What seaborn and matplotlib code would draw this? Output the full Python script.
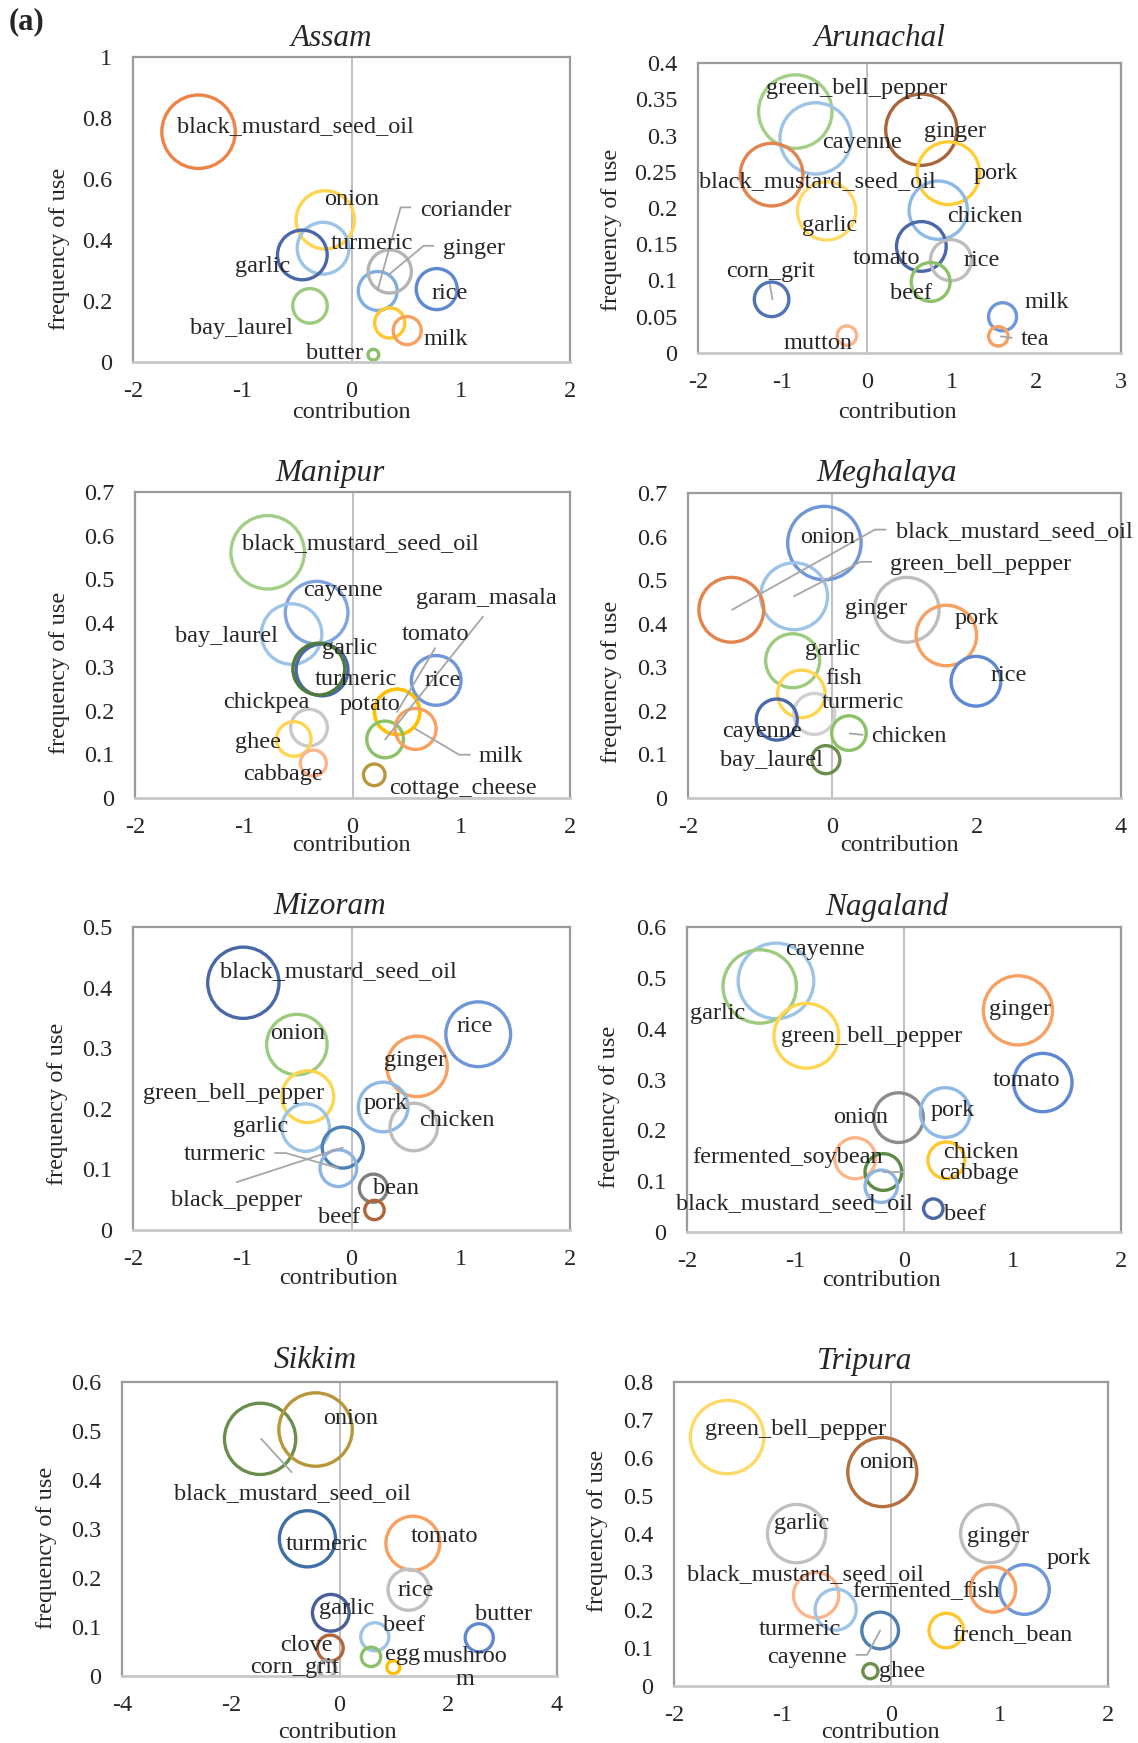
import matplotlib
matplotlib.use("Agg")
import matplotlib.pyplot as plt
import seaborn as sns
import numpy as np
from matplotlib.ticker import FuncFormatter

# ---- data: contribution (x), frequency of use (y), bubble size ----
assam_items = ["black_mustard_seed_oil", "onion", "turmeric", "garlic", "coriander", "ginger",
               "rice", "bay_laurel", "", "milk", "butter"]
assam_contrib = [-1.40, -0.24, -0.26, -0.45, 0.24, 0.35, 0.78, -0.38, 0.35, 0.51, 0.20]
assam_freq = [0.755, 0.466, 0.373, 0.351, 0.233, 0.297, 0.239, 0.184, 0.128, 0.103, 0.024]
assam_size = [34, 27, 24, 23, 18, 20, 19, 16, 14, 13, 5]

arunachal_items = ["green_bell_pepper", "cayenne", "ginger", "black_mustard_seed_oil", "pork", "garlic",
                   "chicken", "tomato", "rice", "beef", "corn_grit", "milk", "tea", "mutton"]
arunachal_contrib = [-0.85, -0.61, 0.64, -1.13, 0.96, -0.48, 0.84, 0.64, 0.99, 0.75, -1.13, 1.60, 1.55, -0.24]
arunachal_freq = [0.333, 0.296, 0.308, 0.246, 0.248, 0.196, 0.197, 0.147, 0.128, 0.098, 0.074, 0.050, 0.023, 0.024]
arunachal_size = [34, 33, 33, 29, 29, 27, 27, 23, 19, 18, 16, 13, 9, 9]

manipur_items = ["black_mustard_seed_oil", "cayenne", "bay_laurel", "garlic", "turmeric", "rice", "potato",
                 "tomato", "garam_masala", "milk", "chickpea", "ghee", "cabbage", "cottage_cheese"]
manipur_contrib = [-0.78, -0.33, -0.56, -0.28, -0.31, 0.77, 0.41, 0.41, 0.30, 0.58, -0.40, -0.54, -0.36, 0.20]
manipur_freq = [0.562, 0.424, 0.375, 0.293, 0.295, 0.269, 0.197, 0.197, 0.134, 0.158, 0.161, 0.135, 0.080, 0.053]
manipur_size = [34, 29, 28, 24, 24, 23, 21, 21, 17, 19, 17, 16, 12, 10]

meghalaya_items = ["onion", "green_bell_pepper", "black_mustard_seed_oil", "ginger", "pork", "garlic",
                   "rice", "fish", "turmeric", "cayenne", "chicken", "bay_laurel"]
meghalaya_contrib = [-0.11, -0.53, -1.40, 1.03, 1.58, -0.55, 1.99, -0.43, -0.25, -0.77, 0.23, -0.09]
meghalaya_freq = [0.585, 0.463, 0.432, 0.432, 0.373, 0.315, 0.268, 0.239, 0.193, 0.180, 0.149, 0.088]
meghalaya_size = [34, 31, 30, 30, 28, 25, 23, 22, 19, 19, 16, 13]

mizoram_items = ["black_mustard_seed_oil", "rice", "onion", "ginger", "green_bell_pepper", "pork",
                 "chicken", "garlic", "black_pepper", "turmeric", "bean", "beef"]
mizoram_contrib = [-0.99, 1.16, -0.50, 0.60, -0.40, 0.29, 0.57, -0.42, -0.08, -0.12, 0.20, 0.21]
mizoram_freq = [0.408, 0.323, 0.306, 0.270, 0.220, 0.203, 0.170, 0.169, 0.136, 0.102, 0.069, 0.033]
mizoram_size = [33, 30, 28, 28, 24, 23, 22, 22, 19, 17, 13, 9]

nagaland_items = ["cayenne", "garlic", "green_bell_pepper", "ginger", "tomato", "onion", "pork",
                  "chicken", "fermented_soybean", "cabbage", "black_mustard_seed_oil", "beef"]
nagaland_contrib = [-1.18, -1.33, -0.90, 1.05, 1.28, -0.05, 0.38, 0.39, -0.45, -0.19, -0.21, 0.27]
nagaland_freq = [0.494, 0.483, 0.386, 0.436, 0.294, 0.225, 0.235, 0.141, 0.145, 0.118, 0.090, 0.046]
nagaland_size = [35, 34, 30, 32, 27, 23, 23, 17, 19, 17, 15, 9]

sikkim_items = ["black_mustard_seed_oil", "onion", "turmeric", "tomato", "rice", "garlic", "beef",
                "butter", "clove", "egg", "mushroom", "corn_grit"]
sikkim_contrib = [-1.46, -0.44, -0.59, 1.35, 1.27, -0.16, 0.65, 2.57, -0.17, 0.58, 0.99, -0.23]
sikkim_freq = [0.484, 0.503, 0.280, 0.271, 0.176, 0.129, 0.080, 0.078, 0.057, 0.039, 0.018, 0.015]
sikkim_size = [33, 34, 26, 25, 19, 17, 13, 13, 12, 9, 6, 8]

tripura_items = ["green_bell_pepper", "onion", "garlic", "ginger", "pork", "fermented_fish",
                 "black_mustard_seed_oil", "turmeric", "cayenne", "french_bean", "ghee"]
tripura_contrib = [-1.51, -0.08, -0.87, 0.91, 1.23, 0.94, -0.69, -0.51, -0.10, 0.51, -0.19]
tripura_freq = [0.655, 0.563, 0.401, 0.401, 0.254, 0.254, 0.239, 0.201, 0.146, 0.146, 0.039]
tripura_size = [34, 32, 27, 27, 23, 21, 21, 19, 17, 16, 7]

# ---- styles: outline colours ----
assam_colors = ["#EC8447", "#FFD54F", "#9DC3E6", "#4A67A8", "#7EAEE0", "#B4B4B4", "#5E88D2",
                "#9CCB7F", "#FFC72C", "#F7A061", "#8CC168"]
arunachal_colors = ["#A3CE88", "#9DC3E6", "#A9653A", "#E3834D", "#FFCD33", "#FFD966", "#8DB9E4",
                    "#4A67A8", "#BDBDBD", "#8CC168", "#4F72B8", "#6F96D8", "#F7A061", "#FBB58A"]
manipur_colors = ["#A3CE88", "#7FA4E0", "#9DC3E6", "#4A67A8", "#4E7A3A", "#6F96D8", "#FFC000",
                  "#FFC000", "#8CC168", "#F7A061", "#C8C8C8", "#FFD54F", "#FBB58A", "#B8963A"]
meghalaya_colors = ["#6F96D8", "#9DC3E6", "#E3834D", "#BDBDBD", "#F7A061", "#9CCB7F", "#5E88D2",
                    "#FFD54F", "#D0D0D0", "#4A67A8", "#8CC168", "#6B8E4E"]
mizoram_colors = ["#4A67A8", "#6F96D8", "#9CCB7F", "#F7A061", "#FFD54F", "#8DB9E4", "#BDBDBD",
                  "#9DC3E6", "#4F7FB8", "#8EB4E3", "#7F7F7F", "#B0653A"]
nagaland_colors = ["#9DC3E6", "#9CCB7F", "#FFD54F", "#F7A061", "#5E88D2", "#8C8C8C", "#8DB9E4",
                   "#FFC72C", "#FBB58A", "#5E8B45", "#8EB4E3", "#4A67A8"]
sikkim_colors = ["#6B8E4E", "#B8963A", "#3F6FA8", "#F7A061", "#C0C0C0", "#4A5F99", "#9DC3E6",
                 "#5E88D2", "#B0653A", "#8CC168", "#FFC000", "#A5A5A5"]
tripura_colors = ["#FFD966", "#B5703F", "#C0C0C0", "#BDBDBD", "#6F96D8", "#F7A061", "#FBB58A",
                  "#9DC3E6", "#4F7FB0", "#FFC72C", "#6B8E4E"]

# ---- layout: label anchors and leader lines (data coords) ----
assam_labels = [(-0.51, 0.771), (0.0, 0.534), (0.19, 0.389), (-0.81, 0.313), (1.05, 0.498), (1.12, 0.373),
                (0.90, 0.226), (-1.01, 0.111), None, (0.86, 0.075), (-0.16, 0.029)]
assam_leaders = [[(0.54, 0.507), (0.45, 0.507), (0.24, 0.237)], [(0.75, 0.381), (0.66, 0.381), (0.35, 0.289)]]

arunachal_labels = [(-0.13, 0.365), (-0.06, 0.290), (1.04, 0.306), (-0.59, 0.236), (1.52, 0.248),
                    (-0.45, 0.176), (1.39, 0.188), (0.23, 0.130), (1.35, 0.127), (0.52, 0.082),
                    (-1.14, 0.113), (2.12, 0.070), (1.98, 0.018), (-0.58, 0.013)]
arunachal_leaders = [[(-1.15, 0.094), (-1.12, 0.074)], [(1.58, 0.023), (1.71, 0.021)]]

manipur_labels = [(0.07, 0.582), (-0.09, 0.474), (-1.16, 0.369), (-0.03, 0.342), (0.03, 0.272), (0.83, 0.269),
                  (0.16, 0.213), (0.76, 0.375), (1.23, 0.457), (1.36, 0.095), (-0.79, 0.218), (-0.87, 0.126),
                  (-0.64, 0.053), (1.02, 0.021)]
manipur_leaders = [[(0.76, 0.343), (0.41, 0.197)], [(1.20, 0.415), (0.30, 0.134)],
                   [(1.08, 0.099), (0.98, 0.099), (0.58, 0.158)]]

meghalaya_labels = [(-0.06, 0.599), (2.05, 0.536), (2.52, 0.612), (0.61, 0.436), (2.0, 0.411), (0.0, 0.340),
                    (2.45, 0.281), (0.16, 0.275), (0.42, 0.220), (-0.98, 0.153), (1.06, 0.142), (-0.85, 0.086)]
meghalaya_leaders = [[(0.74, 0.616), (0.59, 0.616), (-1.39, 0.432)],
                     [(0.54, 0.542), (0.39, 0.542), (-0.53, 0.463)], [(0.24, 0.148), (0.42, 0.145)]]

mizoram_labels = [(-0.12, 0.426), (1.13, 0.335), (-0.49, 0.324), (0.58, 0.279), (-1.08, 0.226), (0.31, 0.209),
                  (0.96, 0.181), (-0.83, 0.170), (-1.05, 0.048), (-1.16, 0.124), (0.41, 0.069), (-0.11, 0.020)]
mizoram_leaders = [[(-0.70, 0.127), (-0.60, 0.127), (-0.12, 0.102)], [(-1.05, 0.079), (-0.08, 0.136)]]

nagaland_labels = [(-0.73, 0.555), (-1.72, 0.429), (-0.30, 0.384), (1.07, 0.437), (1.13, 0.298), (-0.40, 0.225),
                   (0.45, 0.239), (0.71, 0.156), (-1.07, 0.147), (0.69, 0.115), (-1.01, 0.056), (0.56, 0.035)]
nagaland_leaders = [[(-0.19, 0.118), (0.0, 0.118)]]

sikkim_labels = [(-0.86, 0.372), (0.20, 0.525), (-0.23, 0.269), (1.93, 0.285), (1.40, 0.175), (0.14, 0.137),
                 (1.19, 0.103), (3.02, 0.126), (-0.61, 0.063), (1.16, 0.044), (2.31, 0.016), (-0.83, 0.018)]
sikkim_leaders = [[(-1.44, 0.484), (-0.88, 0.416)]]

tripura_labels = [(-0.88, 0.675), (-0.04, 0.589), (-0.82, 0.427), (0.99, 0.394), (1.64, 0.335), (0.32, 0.250),
                  (-0.79, 0.294), (-0.84, 0.148), (-0.77, 0.076), (1.12, 0.136), (0.10, 0.039)]
tripura_leaders = [[(-0.32, 0.082), (-0.22, 0.082), (-0.10, 0.146)]]

W, H = 1138, 1743
LABEL_FS = 17.5
TICK_FS = 17.5
BUBBLE_SCALE = 1.08  # px radius per size unit

sns.set_style("white")
plt.rcParams["font.family"] = ["Liberation Serif", "DejaVu Serif"]

fig = plt.figure(figsize=(W / 100, H / 100), dpi=100)


def fig_xy(px, py):
    return px / W, 1 - py / H


def draw_panel(title, items, contrib, freq, size, colors, labels, leaders,
               box, xlim, xstep, ylim, ystep, title_pos, xlabel_pos, ylabel_pos, wrap=None):
    left, top, right, bottom = box
    ax = fig.add_axes([left / W, 1 - bottom / H, (right - left) / W, (bottom - top) / H])
    ax.axvline(0, color="#BFBFBF", lw=1.4, zorder=1)

    sns.scatterplot(x=contrib, y=freq, ax=ax, legend=False, zorder=2)
    coll = ax.collections[-1]
    coll.set_facecolor("none")
    coll.set_edgecolors(colors)
    coll.set_linewidths(2.4)
    diam_pt = 2 * np.array(size) * BUBBLE_SCALE * 0.72
    coll.set_sizes(diam_pt ** 2)

    for line in leaders:
        xs, ys = zip(*line)
        ax.plot(xs, ys, color="#A6A6A6", lw=1.3, zorder=3)

    for name, pos in zip(items, labels):
        if pos is None:
            continue
        text = wrap.get(name, name) if wrap else name
        ax.text(pos[0], pos[1], text, ha="center", va="center", fontsize=LABEL_FS,
                zorder=4, linespacing=1.15)

    ax.set_xlim(*xlim)
    ax.set_ylim(*ylim)
    ax.set_xticks(np.arange(xlim[0], xlim[1] + 1e-9, xstep))
    ax.set_yticks(np.arange(ylim[0], ylim[1] + 1e-9, ystep))
    fmt = FuncFormatter(lambda v, _: f"{round(v, 3):g}")
    ax.xaxis.set_major_formatter(fmt)
    ax.yaxis.set_major_formatter(fmt)
    ax.tick_params(axis="both", length=0, labelsize=TICK_FS)
    ax.tick_params(axis="x", pad=14)
    ax.tick_params(axis="y", pad=15)
    ax.set_xlabel("")
    ax.set_ylabel("")
    for side in ["top", "right", "left"]:
        ax.spines[side].set_color("#9A9A9A")
        ax.spines[side].set_linewidth(1.6)
    ax.spines["bottom"].set_color("#C8C8C8")
    ax.spines["bottom"].set_linewidth(2.0)

    fig.text(*fig_xy(*title_pos), title, ha="center", va="center", fontsize=22.5, style="italic")
    fig.text(*fig_xy(*xlabel_pos), "contribution", ha="center", va="center", fontsize=17.5)
    fig.text(*fig_xy(*ylabel_pos), "frequency of use", ha="center", va="center",
             fontsize=17.5, rotation=90)


draw_panel("Assam", assam_items, assam_contrib, assam_freq, assam_size, assam_colors,
           assam_labels, assam_leaders, (133, 57, 570, 362), (-2, 2), 1, (0, 1), 0.2,
           (332, 39), (351, 412), (59, 249))
draw_panel("Arunachal", arunachal_items, arunachal_contrib, arunachal_freq, arunachal_size, arunachal_colors,
           arunachal_labels, arunachal_leaders, (698, 63, 1121, 353), (-2, 3), 1, (0, 0.4), 0.05,
           (880, 38), (897, 412), (612, 230))
draw_panel("Manipur", manipur_items, manipur_contrib, manipur_freq, manipur_size, manipur_colors,
           manipur_labels, manipur_leaders, (135, 492, 570, 798), (-2, 2), 1, (0, 0.7), 0.1,
           (330, 473), (351, 845), (59, 673))
draw_panel("Meghalaya", meghalaya_items, meghalaya_contrib, meghalaya_freq, meghalaya_size, meghalaya_colors,
           meghalaya_labels, meghalaya_leaders, (688, 493, 1121, 798), (-2, 4), 2, (0, 0.7), 0.1,
           (887, 473), (899, 845), (612, 682))
draw_panel("Mizoram", mizoram_items, mizoram_contrib, mizoram_freq, mizoram_size, mizoram_colors,
           mizoram_labels, mizoram_leaders, (133, 927, 570, 1230), (-2, 2), 1, (0, 0.5), 0.1,
           (330, 907), (338, 1279), (58, 1104))
draw_panel("Nagaland", nagaland_items, nagaland_contrib, nagaland_freq, nagaland_size, nagaland_colors,
           nagaland_labels, nagaland_leaders, (687, 927, 1121, 1232), (-2, 2), 1, (0, 0.6), 0.1,
           (887, 907), (881, 1280), (610, 1107))
draw_panel("Sikkim", sikkim_items, sikkim_contrib, sikkim_freq, sikkim_size, sikkim_colors,
           sikkim_labels, sikkim_leaders, (122, 1382, 557, 1676), (-4, 4), 2, (0, 0.6), 0.1,
           (315, 1361), (337, 1733), (47, 1548), wrap={"mushroom": "mushroo\nm"})
draw_panel("Tripura", tripura_items, tripura_contrib, tripura_freq, tripura_size, tripura_colors,
           tripura_labels, tripura_leaders, (674, 1382, 1108, 1686), (-2, 2), 1, (0, 0.8), 0.1,
           (865, 1361), (880, 1733), (598, 1531))

fig.text(*fig_xy(26, 22), "(a)", ha="center", va="center", fontsize=22, fontweight="bold")

fig.savefig("out.png", dpi=100)
